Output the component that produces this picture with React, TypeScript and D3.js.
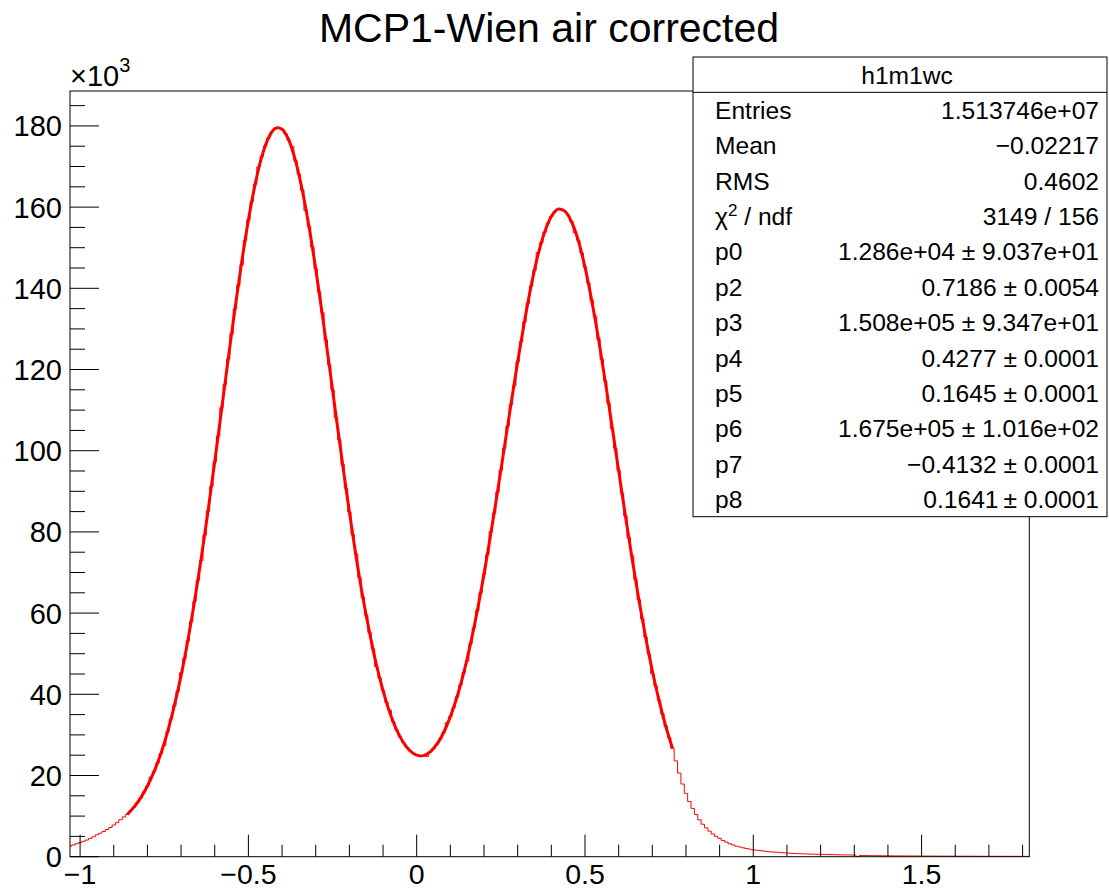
import * as d3 from "d3"

// histogram h1m1wc, bins of 0.01 starting at -1.035 (values in units of 10^3)
const BIN_START = -1.035
const BIN_WIDTH = 0.01

// bins centred -1.03 .. -0.87
const leftTail = [2.6, 2.9, 3.2, 3.5, 3.8, 4.1, 4.5, 4.9, 5.4, 5.8, 6.2, 6.7, 7.2, 7.8, 8.4, 9.1, 9.8]

// bins centred -0.86 .. 0.76
const core = [
  10.4, 11.3, 12.2, 13.3, 14.5, 15.9, 17.4, 19.6, 21.0, 23.1,
  25.4, 27.4, 30.8, 33.9, 37.2, 40.8, 45.3, 48.8, 53.2, 57.9,
  62.9, 68.1, 72.9, 79.2, 85.1, 91.2, 97.3, 103.6, 110.6, 116.3,
  122.6, 128.8, 134.9, 140.7, 145.8, 151.8, 156.8, 161.4, 165.6, 169.9,
  172.5, 175.1, 177.1, 178.6, 179.4, 179.6, 179.2, 178.1, 176.5, 174.9,
  171.4, 168.1, 164.2, 159.2, 155.2, 150.2, 144.8, 139.1, 134.0, 127.3,
  121.2, 115.0, 108.1, 102.7, 96.6, 90.7, 84.9, 79.3, 74.6, 68.8,
  63.9, 59.5, 55.2, 51.2, 46.8, 44.0, 40.9, 38.1, 36.1, 33.3,
  31.3, 29.6, 28.2, 27.0, 26.1, 25.4, 25.0, 24.9, 24.9, 24.7,
  25.8, 26.6, 27.7, 29.0, 30.6, 33.0, 34.5, 36.8, 39.4, 42.3,
  45.4, 48.2, 52.5, 56.4, 60.6, 65.0, 69.6, 74.4, 80.1, 84.6,
  89.8, 95.2, 100.6, 106.0, 111.4, 116.0, 121.9, 126.9, 131.7, 136.3,
  140.6, 144.5, 148.8, 151.2, 153.8, 156.0, 157.7, 158.9, 159.5, 159.5,
  159.0, 158.0, 156.4, 153.7, 151.8, 148.7, 145.2, 141.3, 137.0, 133.1,
  127.6, 122.5, 117.2, 111.7, 105.5, 100.6, 95.1, 89.5, 84.0, 78.6,
  74.1, 68.3, 63.3, 58.6, 54.1, 49.9, 45.1, 42.0, 38.5, 35.2,
  32.1, 29.3, 26.7,
]

// bins centred 0.77 .. 1.82
const rightTail = [
  23.6, 20.6, 17.9, 15.6, 13.6, 11.9, 10.4, 9.1, 8.0, 7.1,
  6.3, 5.6, 5.0, 4.5, 4.0, 3.6, 3.2, 2.9, 2.6, 2.4,
  2.2, 2.0, 1.85, 1.7, 1.6, 1.5, 1.4, 1.3, 1.2, 1.15,
  1.1, 1.0, 0.95, 0.9, 0.85, 0.8, 0.75, 0.72, 0.7, 0.67,
  0.64, 0.62, 0.6, 0.57, 0.55, 0.53, 0.51, 0.5, 0.48, 0.46,
  0.45, 0.43, 0.42, 0.4, 0.05, 0.3,
  0.28, 0.27, 0.26, 0.25, 0.24, 0.23, 0.22, 0.22, 0.21, 0.2,
  0.2, 0.19, 0.19, 0.18, 0.18, 0.17, 0.17, 0.16, 0.16, 0.15,
  0.15, 0.15, 0.14, 0.14, 0.14, 0.13, 0.13, 0.13, 0.12, 0.12,
  0.12, 0.12, 0.11, 0.11, 0.11, 0.11, 0.1, 0.1, 0.1, 0.1,
  0.1, 0.1, 0.09, 0.09, 0.09, 0.09, 0.09, 0.08, 0.08, 0.08,
]

const counts = [...leftTail, ...core, ...rightTail]

// fit curve, sampled every 0.02 from -0.86 to 0.76
const FIT_START = -0.86
const FIT_STEP = 0.02
const fitValues = [
  10.4, 12.2, 14.5, 17.4, 21.0, 25.4, 30.8, 37.2, 44.6, 53.2,
  62.9, 73.6, 85.1, 97.3, 109.9, 122.6, 134.9, 146.4, 156.8, 165.6,
  172.5, 177.1, 179.4, 179.2, 176.5, 171.4, 164.2, 155.2, 144.8, 133.3,
  121.2, 108.8, 96.6, 84.9, 73.9, 63.9, 55.2, 47.4, 40.9, 35.5,
  31.3, 28.2, 26.1, 25.0, 24.9, 25.8, 27.7, 30.6, 34.5, 39.4,
  45.4, 52.5, 60.6, 69.6, 79.4, 89.8, 100.6, 111.4, 121.9, 131.7,
  140.6, 148.1, 153.8, 157.7, 159.5, 159.0, 156.4, 151.8, 145.2, 137.0,
  127.6, 117.2, 106.2, 95.1, 84.0, 73.4, 63.3, 54.1, 45.8, 38.5,
  32.1, 26.7,
]

const xMajorTicks = [-1, -0.5, 0, 0.5, 1, 1.5]
const xTickLabels = ["\u22121", "\u22120.5", "0", "0.5", "1", "1.5"]
const yMajorTicks = [0, 20, 40, 60, 80, 100, 120, 140, 160, 180]

const statsName = "h1m1wc"
const statsLabels = ["Entries", "Mean", "RMS", "CHI2", "p0", "p2", "p3", "p4", "p5", "p6", "p7", "p8"]
const statsValues = [
  "1.513746e+07",
  "\u22120.02217",
  "0.4602",
  "3149 / 156",
  "1.286e+04 \u00b1 9.037e+01",
  "0.7186 \u00b1 0.0054",
  "1.508e+05 \u00b1 9.347e+01",
  "0.4277 \u00b1 0.0001",
  "0.1645 \u00b1 0.0001",
  "1.675e+05 \u00b1 1.016e+02",
  "\u22120.4132 \u00b1 0.0001",
  "0.1641\u2009\u00b1 0.0001",
]

const FONT = "'Liberation Sans', Arial, Helvetica, sans-serif"
const W = 1109
const H = 891

export default function App() {
  const left = 70
  const right = 1029.3
  const top = 91
  const bottom = 856.7

  const x = d3.scaleLinear().domain([-1.03, 1.82]).range([left, right])
  const y = d3.scaleLinear().domain([0, 188.6]).range([bottom, top])

  // step outline of the histogram
  const edges = counts.map((v, i) => [BIN_START + i * BIN_WIDTH, v] as [number, number])
  edges.push([BIN_START + counts.length * BIN_WIDTH, counts[counts.length - 1]])
  const histPath = d3
    .line<[number, number]>()
    .x((d) => x(d[0]))
    .y((d) => y(d[1]))
    .curve(d3.curveStepAfter)(edges)

  const fitPath = d3
    .line<number>()
    .x((d, i) => x(FIT_START + i * FIT_STEP))
    .y((d) => y(d))
    .curve(d3.curveCatmullRom)(fitValues)

  const xMinor = d3.range(-10, 19).map((k) => k / 10)
  const yMinor = d3.range(0, 190, 5)

  const majorLenY = 29
  const minorLenY = 15
  const majorLenX = 22
  const minorLenX = 12

  const boxX = 693
  const boxY = 57
  const boxW = 414
  const rowH = 35.36

  return (
    <svg
      width={W}
      height={H}
      style={{ position: "absolute", left: 0, top: 0, background: "white" }}
      fontFamily={FONT}
    >
      <rect width={W} height={H} fill="white" />
      <defs>
        <clipPath id="frame">
          <rect x={left} y={top} width={right - left} height={bottom - top} />
        </clipPath>
      </defs>

      <text x={549} y={42} fontSize={41} textAnchor="middle" fill="black">
        MCP1-Wien air corrected
      </text>

      <g clipPath="url(#frame)">
        <path d={histPath || ""} fill="none" stroke="#ff0000" strokeWidth={1} />
        <path d={fitPath || ""} fill="none" stroke="#ff0000" strokeWidth={3} strokeLinejoin="round" />
      </g>

      {/* frame */}
      <rect x={left} y={top} width={right - left} height={bottom - top} fill="none" stroke="black" strokeWidth={1} />

      {/* y axis ticks */}
      {yMinor.map((v) => (
        <line
          key={"ym" + v}
          x1={left}
          x2={left + (v % 20 === 0 ? majorLenY : minorLenY)}
          y1={y(v)}
          y2={y(v)}
          stroke="black"
          strokeWidth={1}
        />
      ))}
      {yMajorTicks.map((v) => (
        <text key={"yl" + v} x={62} y={y(v) + 10.5} fontSize={29} textAnchor="end" fill="black">
          {v}
        </text>
      ))}
      <text x={70} y={86} fontSize={29} fill="black">
        ×10
        <tspan fontSize={20} dy={-14}>
          3
        </tspan>
      </text>

      {/* x axis ticks */}
      {xMinor.map((v) => {
        const major = xMajorTicks.some((m) => Math.abs(m - v) < 1e-6)
        return (
          <line
            key={"xm" + v}
            x1={x(v)}
            x2={x(v)}
            y1={bottom}
            y2={bottom - (major ? majorLenX : minorLenX)}
            stroke="black"
            strokeWidth={1}
          />
        )
      })}
      {xMajorTicks.map((v, i) => (
        <text key={"xl" + v} x={x(v)} y={884} fontSize={28.5} textAnchor="middle" fill="black">
          {xTickLabels[i]}
        </text>
      ))}

      {/* stats box */}
      <rect x={boxX} y={boxY} width={boxW} height={rowH * 13} fill="white" stroke="black" strokeWidth={1} />
      <line x1={boxX} x2={boxX + boxW} y1={boxY + rowH} y2={boxY + rowH} stroke="black" strokeWidth={1} />
      <text x={907} y={boxY + rowH / 2 + 9} fontSize={24.6} textAnchor="middle" fill="black">
        {statsName}
      </text>
      {statsLabels.map((lab, i) => {
        const by = boxY + rowH * (i + 1.5) + 9
        return (
          <g key={lab}>
            <text x={715} y={by} fontSize={24.6} fill="black">
              {lab === "CHI2" ? (
                <>
                  χ
                  <tspan fontSize={17} dy={-9}>
                    2
                  </tspan>
                  <tspan dy={9}> / ndf</tspan>
                </>
              ) : (
                lab
              )}
            </text>
            <text x={1099} y={by} fontSize={24.6} textAnchor="end" fill="black">
              {statsValues[i]}
            </text>
          </g>
        )
      })}
    </svg>
  )
}
